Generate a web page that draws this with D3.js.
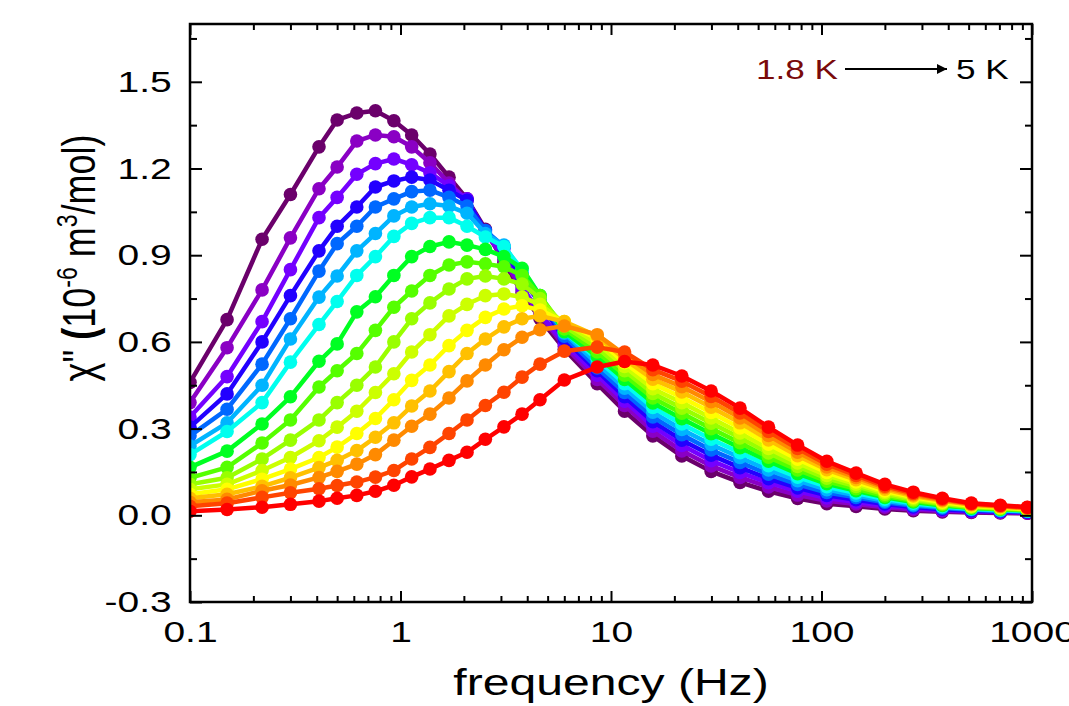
<!DOCTYPE html>
<html>
<head>
<meta charset="utf-8">
<script src="https://cdn.jsdelivr.net/npm/d3@7"></script>
<style>
  body { margin: 0; background: white; }
  text { font-family: "Liberation Sans", Arial, sans-serif; }
</style>
</head>
<body>
<div id="d3-container"></div>
<script>
// frequencies (Hz) of the ac sweep
var freqs = [0.1, 0.15, 0.22, 0.3, 0.41, 0.5, 0.62, 0.76, 0.93, 1.13, 1.38, 1.7, 2.07, 2.53, 3.1, 3.78, 4.6, 6.0, 8.6, 11.6, 15.8, 21.7, 29.9, 41, 56, 77, 106, 146, 200, 273, 375, 515, 707, 950]

// chi'' curves, 1.8 K (first) up to 5 K (last)
var chi_1 = [.46, .677, .955, 1.11, 1.275, 1.368, 1.392, 1.40, 1.365, 1.316, 1.25, 1.17, 1.095, .99, .875, .77, .68, .575, .455, .36, .275, .205, .152, .114, .083, .058, .040, .031, .022, .016, .012, .010, .008, .007]
var chi_2 = [.39, .58, .78, .96, 1.13, 1.205, 1.295, 1.316, 1.31, 1.275, 1.22, 1.15, 1.09, .98, .885, .78, .693, .585, .47, .38, .291, .223, .171, .131, .098, .070, .050, .039, .028, .020, .015, .012, .010, .008]
var chi_3 = [.34, .48, .67, .85, 1.03, 1.10, 1.18, 1.217, 1.233, 1.213, 1.185, 1.14, 1.095, .975, .90, .79, .70, .595, .485, .395, .308, .242, .189, .148, .113, .083, .060, .046, .033, .025, .018, .014, .012, .010]
var chi_4 = [.305, .42, .60, .76, .915, 1.0, 1.067, 1.136, 1.157, 1.17, 1.16, 1.125, 1.09, .985, .925, .815, .735, .61, .50, .41, .324, .260, .208, .165, .127, .095, .069, .054, .039, .029, .021, .016, .013, .011]
var chi_5 = [.275, .367, .523, .68, .845, .94, 1.0, 1.067, 1.095, 1.12, 1.125, 1.10, 1.07, .985, .93, .835, .748, .62, .51, .425, .340, .279, .226, .183, .142, .107, .079, .062, .045, .033, .025, .019, .015, .013]
var chi_6 = [.24, .32, .45, .61, .755, .828, .915, .975, 1.036, 1.067, 1.078, 1.07, 1.045, .975, .935, .84, .755, .63, .525, .44, .357, .297, .245, .200, .157, .120, .089, .069, .050, .037, .028, .021, .017, .014]
var chi_7 = [.21, .29, .39, .53, .66, .74, .83, .895, .965, 1.01, 1.03, 1.03, 1.0, .963, .93, .85, .76, .635, .54, .455, .373, .316, .263, .217, .172, .132, .099, .077, .056, .042, .031, .023, .019, .015]
var chi_8 = [.166, .222, .316, .41, .533, .593, .704, .756, .83, .895, .93, .946, .935, .92, .895, .855, .76, .635, .55, .47, .389, .334, .282, .234, .187, .144, .109, .085, .062, .046, .034, .025, .021, .017]
var chi_9 = [.13, .166, .25, .33, .444, .50, .56, .64, .72, .776, .83, .866, .877, .87, .86, .83, .76, .645, .565, .485, .406, .353, .300, .251, .201, .157, .118, .092, .067, .050, .037, .027, .022, .018]
var chi_10 = [.107, .13, .195, .26, .33, .39, .45, .513, .60, .68, .735, .783, .818, .828, .818, .80, .75, .655, .58, .50, .422, .371, .319, .268, .216, .169, .128, .100, .073, .054, .040, .029, .024, .020]
var chi_11 = [.09, .107, .155, .20, .258, .305, .36, .425, .49, .565, .625, .69, .73, .76, .766, .755, .73, .665, .595, .515, .438, .390, .337, .285, .231, .181, .138, .108, .079, .059, .043, .031, .026, .021]
var chi_12 = [.073, .09, .125, .16, .20, .236, .283, .335, .40, .467, .52, .587, .64, .685, .714, .725, .71, .67, .61, .528, .455, .408, .356, .302, .246, .194, .148, .115, .084, .063, .046, .033, .028, .022]
var chi_13 = [.059, .073, .10, .13, .165, .19, .224, .27, .32, .378, .43, .497, .56, .61, .652, .68, .69, .67, .62, .54, .471, .427, .374, .320, .261, .206, .158, .123, .090, .067, .050, .036, .030, .024]
var chi_14 = [.045, .055, .085, .105, .131, .152, .177, .21, .26, .308, .35, .406, .465, .52, .573, .616, .642, .655, .625, .555, .487, .445, .393, .337, .276, .218, .167, .131, .096, .071, .053, .038, .031, .025]
var chi_15 = [.031, .042, .062, .078, .092, .103, .115, .132, .155, .195, .235, .283, .33, .38, .426, .478, .523, .568, .582, .565, .504, .464, .411, .354, .290, .231, .177, .138, .101, .076, .056, .040, .033, .027]
var chi_16 = [.014, .02, .028, .038, .049, .059, .069, .083, .104, .133, .16, .19, .218, .263, .306, .35, .40, .468, .513, .532, .52, .482, .43, .371, .305, .243, .187, .146, .107, .080, .059, .042, .035, .028]

var colors = ['#6b006b', '#8a00c4', '#7400ff', '#2200ff', '#0068ff', '#00b4ff', '#00ffee', '#00ff22', '#55ff00', '#99ff00', '#ccff00', '#ffff00', '#ffc000', '#ff8a00', '#ff4400', '#ff0000']

var xTicks = [0.1, 1, 10, 100, 1000]
var xTickLabels = ['0.1', '1', '10', '100', '1000']
var yTicks = [-0.3, 0.0, 0.3, 0.6, 0.9, 1.2, 1.5]
var yTickLabels = ['-0.3', '0.0', '0.3', '0.6', '0.9', '1.2', '1.5']

var curves = [chi_1, chi_2, chi_3, chi_4, chi_5, chi_6, chi_7, chi_8, chi_9, chi_10, chi_11, chi_12, chi_13, chi_14, chi_15, chi_16]

var width = 1069
var height = 706
var margin = { top: 24, bottom: 104, left: 190, right: 37 }
// the figure's lettering is stretched sideways
var stretch = 'scale(1.3,1)'

var svg = d3.select('#d3-container')
    .append('svg')
    .attr('width', width)
    .attr('height', height)
    .style('background', 'white')

var x = d3.scaleLog()
    .domain([0.1, 1000])
    .range([margin.left, width - margin.right])

var y = d3.scaleLinear()
    .domain([-0.3, 1.7])
    .range([height - margin.bottom, margin.top])

svg.append('clipPath')
    .attr('id', 'plot-clip')
  .append('rect')
    .attr('x', margin.left)
    .attr('y', margin.top)
    .attr('width', width - margin.left - margin.right)
    .attr('height', height - margin.top - margin.bottom)

var line = d3.line()
    .x(d => x(d.f))
    .y(d => y(d.v))

var plot = svg.append('g').attr('clip-path', 'url(#plot-clip)')

curves.forEach((vals, k) => {
    var pts = vals.map((v, i) => ({ f: freqs[i], v: v }))
    var g = plot.append('g')
    g.append('path')
        .datum(pts)
        .attr('fill', 'none')
        .attr('stroke', colors[k])
        .attr('stroke-width', 4.5)
        .attr('stroke-linejoin', 'round')
        .attr('d', line)
    g.selectAll('circle')
        .data(pts)
        .join('circle')
        .attr('cx', d => x(d.f))
        .attr('cy', d => y(d.v))
        .attr('r', 6.8)
        .attr('fill', colors[k])
})

// minor tick positions
var xMinor = []
;[0.1, 1, 10, 100].forEach(dec => {
    for (var m = 2; m <= 9; m++) xMinor.push(dec * m)
})
var yMinor = [-0.15, 0.15, 0.45, 0.75, 1.05, 1.35, 1.65]

var bottomY = height - margin.bottom
var rightX = width - margin.right

function styleAxis(g) {
    g.select('.domain').remove()
    g.selectAll('line').attr('stroke', 'black').attr('stroke-width', 2)
    g.selectAll('text')
        .attr('font-family', '"Liberation Sans", Arial, sans-serif')
        .attr('fill', 'black')
}

svg.append('g')
    .attr('transform', `translate(0, ${bottomY})`)
    .call(d3.axisBottom(x).tickValues(xTicks).tickSize(-11).tickPadding(19)
        .tickFormat((d, i) => xTickLabels[i]))
    .call(styleAxis)
    .selectAll('text')
    .attr('font-size', '30px')
    .attr('transform', stretch)

svg.append('g')
    .attr('transform', `translate(0, ${bottomY})`)
    .call(d3.axisBottom(x).tickValues(xMinor).tickSize(-6).tickFormat(''))
    .call(styleAxis)

svg.append('g')
    .attr('transform', `translate(0, ${margin.top})`)
    .call(d3.axisTop(x).tickValues(xTicks).tickSize(-11).tickFormat(''))
    .call(styleAxis)

svg.append('g')
    .attr('transform', `translate(0, ${margin.top})`)
    .call(d3.axisTop(x).tickValues(xMinor).tickSize(-6).tickFormat(''))
    .call(styleAxis)

svg.append('g')
    .attr('transform', `translate(${margin.left}, 0)`)
    .call(d3.axisLeft(y).tickValues(yTicks).tickSize(-12).tickPadding(14)
        .tickFormat((d, i) => yTickLabels[i]))
    .call(styleAxis)
    .selectAll('text')
    .attr('font-size', '30px')
    .attr('transform', stretch)

svg.append('g')
    .attr('transform', `translate(${margin.left}, 0)`)
    .call(d3.axisLeft(y).tickValues(yMinor).tickSize(-7).tickFormat(''))
    .call(styleAxis)

svg.append('g')
    .attr('transform', `translate(${rightX}, 0)`)
    .call(d3.axisRight(y).tickValues(yTicks).tickSize(-12).tickFormat(''))
    .call(styleAxis)

svg.append('g')
    .attr('transform', `translate(${rightX}, 0)`)
    .call(d3.axisRight(y).tickValues(yMinor).tickSize(-7).tickFormat(''))
    .call(styleAxis)

// frame
svg.append('rect')
    .attr('x', margin.left)
    .attr('y', margin.top)
    .attr('width', rightX - margin.left)
    .attr('height', bottomY - margin.top)
    .attr('fill', 'none')
    .attr('stroke', 'black')
    .attr('stroke-width', 2.5)

// axis titles
svg.append('text')
    .attr('transform', `translate(${(margin.left + rightX) / 2}, 695) ${stretch}`)
    .attr('text-anchor', 'middle')
    .attr('font-size', '37px')
    .text('frequency (Hz)')

var yt = svg.append('text')
    .attr('transform', `translate(95, 258) scale(1.3,1) rotate(-90)`)
    .attr('text-anchor', 'middle')
    .attr('font-size', '36px')
yt.append('tspan').text('\u03c7" ')
yt.append('tspan').attr('font-weight', 'bold').text('(')
yt.append('tspan').text('10')
yt.append('tspan').attr('dy', -14).attr('font-size', '23px').text('-6')
yt.append('tspan').attr('dy', 14).text(' m')
yt.append('tspan').attr('dy', -14).attr('font-size', '23px').text('3')
yt.append('tspan').attr('dy', 14).text('/mol)')

// temperature arrow
svg.append('defs').append('marker')
    .attr('id', 'arrow')
    .attr('viewBox', '0 0 10 10')
    .attr('refX', 10)
    .attr('refY', 5)
    .attr('markerWidth', 10)
    .attr('markerHeight', 5)
    .attr('orient', 'auto')
    .attr('markerUnits', 'strokeWidth')
  .append('path')
    .attr('d', 'M0,0 L10,5 L0,10 z')
    .attr('fill', 'black')

svg.append('text')
    .attr('transform', `translate(838, 79) ${stretch}`)
    .attr('text-anchor', 'end')
    .attr('font-size', '27px')
    .attr('fill', '#7a0a0a')
    .text('1.8 K')

svg.append('line')
    .attr('x1', 845)
    .attr('x2', 947)
    .attr('y1', 69)
    .attr('y2', 69)
    .attr('stroke', 'black')
    .attr('stroke-width', 2)
    .attr('marker-end', 'url(#arrow)')

svg.append('text')
    .attr('transform', `translate(956, 79) ${stretch}`)
    .attr('font-size', '27px')
    .attr('fill', 'black')
    .text('5 K')
</script>
</body>
</html>
